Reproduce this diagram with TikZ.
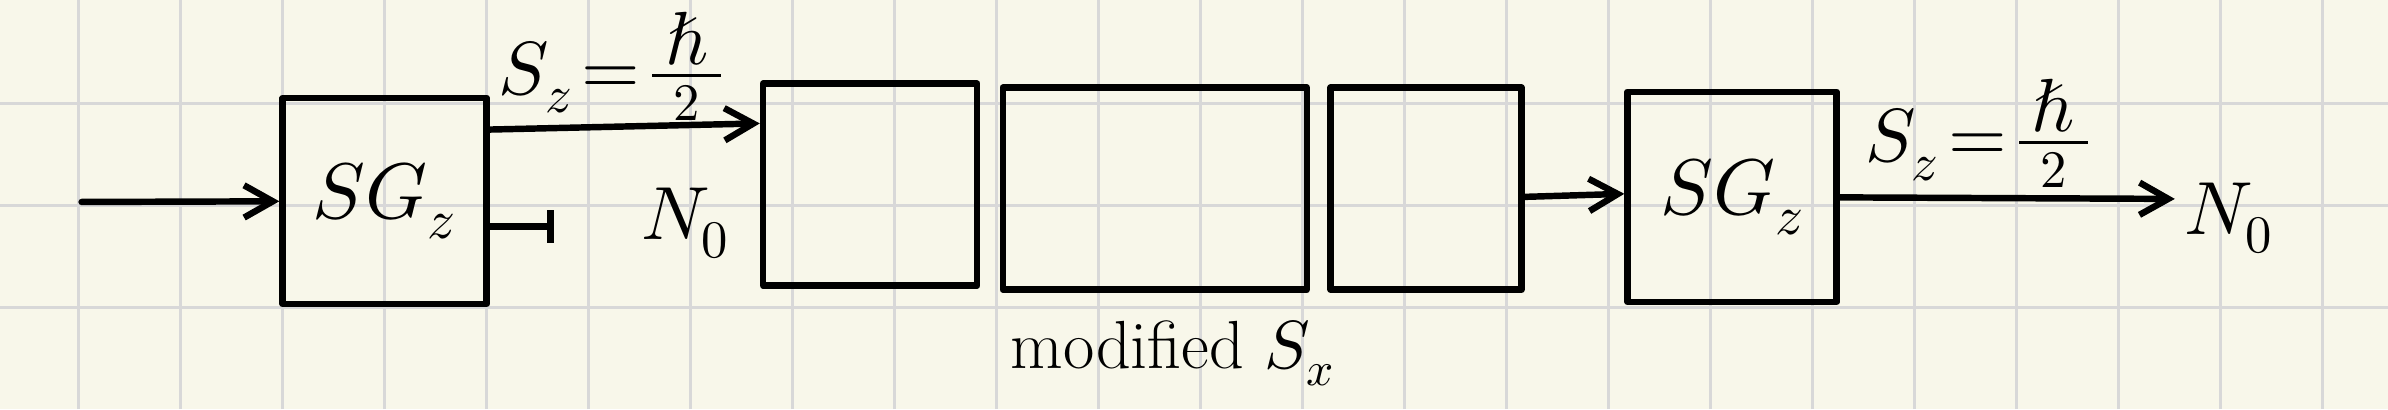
\documentclass[tikz,border=0pt]{standalone}
\usepackage{unicode-math}
\usetikzlibrary{arrows.meta}

\definecolor{paper}{HTML}{F8F7EA}
\definecolor{gridgray}{HTML}{D8D8D8}

\tikzset{
	pen/.style={line width=1.8pt, line cap=round, line join=round},
	sgbox/.style={pen, draw, rectangle, inner sep=0pt, minimum width=2cm, minimum height=2.02cm, font=\fontsize{22}{26}\selectfont},
	filterbox/.style={pen, draw, rectangle, inner sep=0pt, minimum height=1.98cm},
	beam/.style={pen, -{Straight Barb[length=8pt,width=9pt]}},
	hand/.style={inner sep=1pt, font=\fontsize{21}{25}\selectfont},
	note/.style={inner sep=1pt, font=\fontsize{19}{23}\selectfont}
}
\newcommand{\spinup}{$S_z\mkern2mu{=}\mkern2mu\genfrac{}{}{}{1}{\textstyle\mkern3mu\hbar\mkern3mu}{\scriptstyle 2}$}

\begin{document}
\begin{tikzpicture}
		\fill[paper] (0,0) rectangle (23.41,4.01);
		\useasboundingbox (0,0) rectangle (23.41,4.01);
		\foreach \x in {0,...,22}
			\draw[gridgray, line width=0.85pt] (0.77+\x,0) -- (0.77+\x,4.01);
		\foreach \y in {1,...,3}
			\draw[gridgray, line width=0.85pt] (0,\y) -- (23.41,\y);

		\node[sgbox] (sg1) at (3.77,2.04) {$SG_z$};
		\node[filterbox, minimum width=2.1cm] (fa) at (8.53,2.2) {};
		\node[filterbox, minimum width=2.98cm] (fb) at (11.32,2.16) {};
		\node[filterbox, minimum width=1.87cm] (fc) at (13.98,2.16) {};
		\node[sgbox, minimum width=2.05cm, minimum height=2.06cm] (sg2) at (16.98,2.08) {$SG_z$};

		\coordinate (src) at (0.8,2.03);
		\coordinate (stop) at (5.43,1.79);
		\coordinate (out) at (21.32,2.06);

		\draw[beam] (src) -- (sg1);
		\draw[beam] ([yshift=0.7cm]sg1.east) -- ([yshift=0.6cm]fa.west);
		\draw[pen, -{Bar[width=9pt]}] (sg1.east |- stop) -- (stop);
		\draw[beam] ([yshift=-0.08cm]fc.east) -- ([yshift=0.03cm]sg2.west);
		\draw[beam] (sg2) -- (out);

		\node[hand] (up) at (6.0,3.36) {\spinup};
		\node[hand] (n1) at (6.72,1.82) {$N_0$};
		\node[hand] (up2) at (19.4,2.7) {\spinup};
		\node[hand] (n2) at (21.85,1.87) {$N_0$};
		\node[note] (mod) at (11.5,0.55) {modified $S_x$};
	\end{tikzpicture}
\end{document}
